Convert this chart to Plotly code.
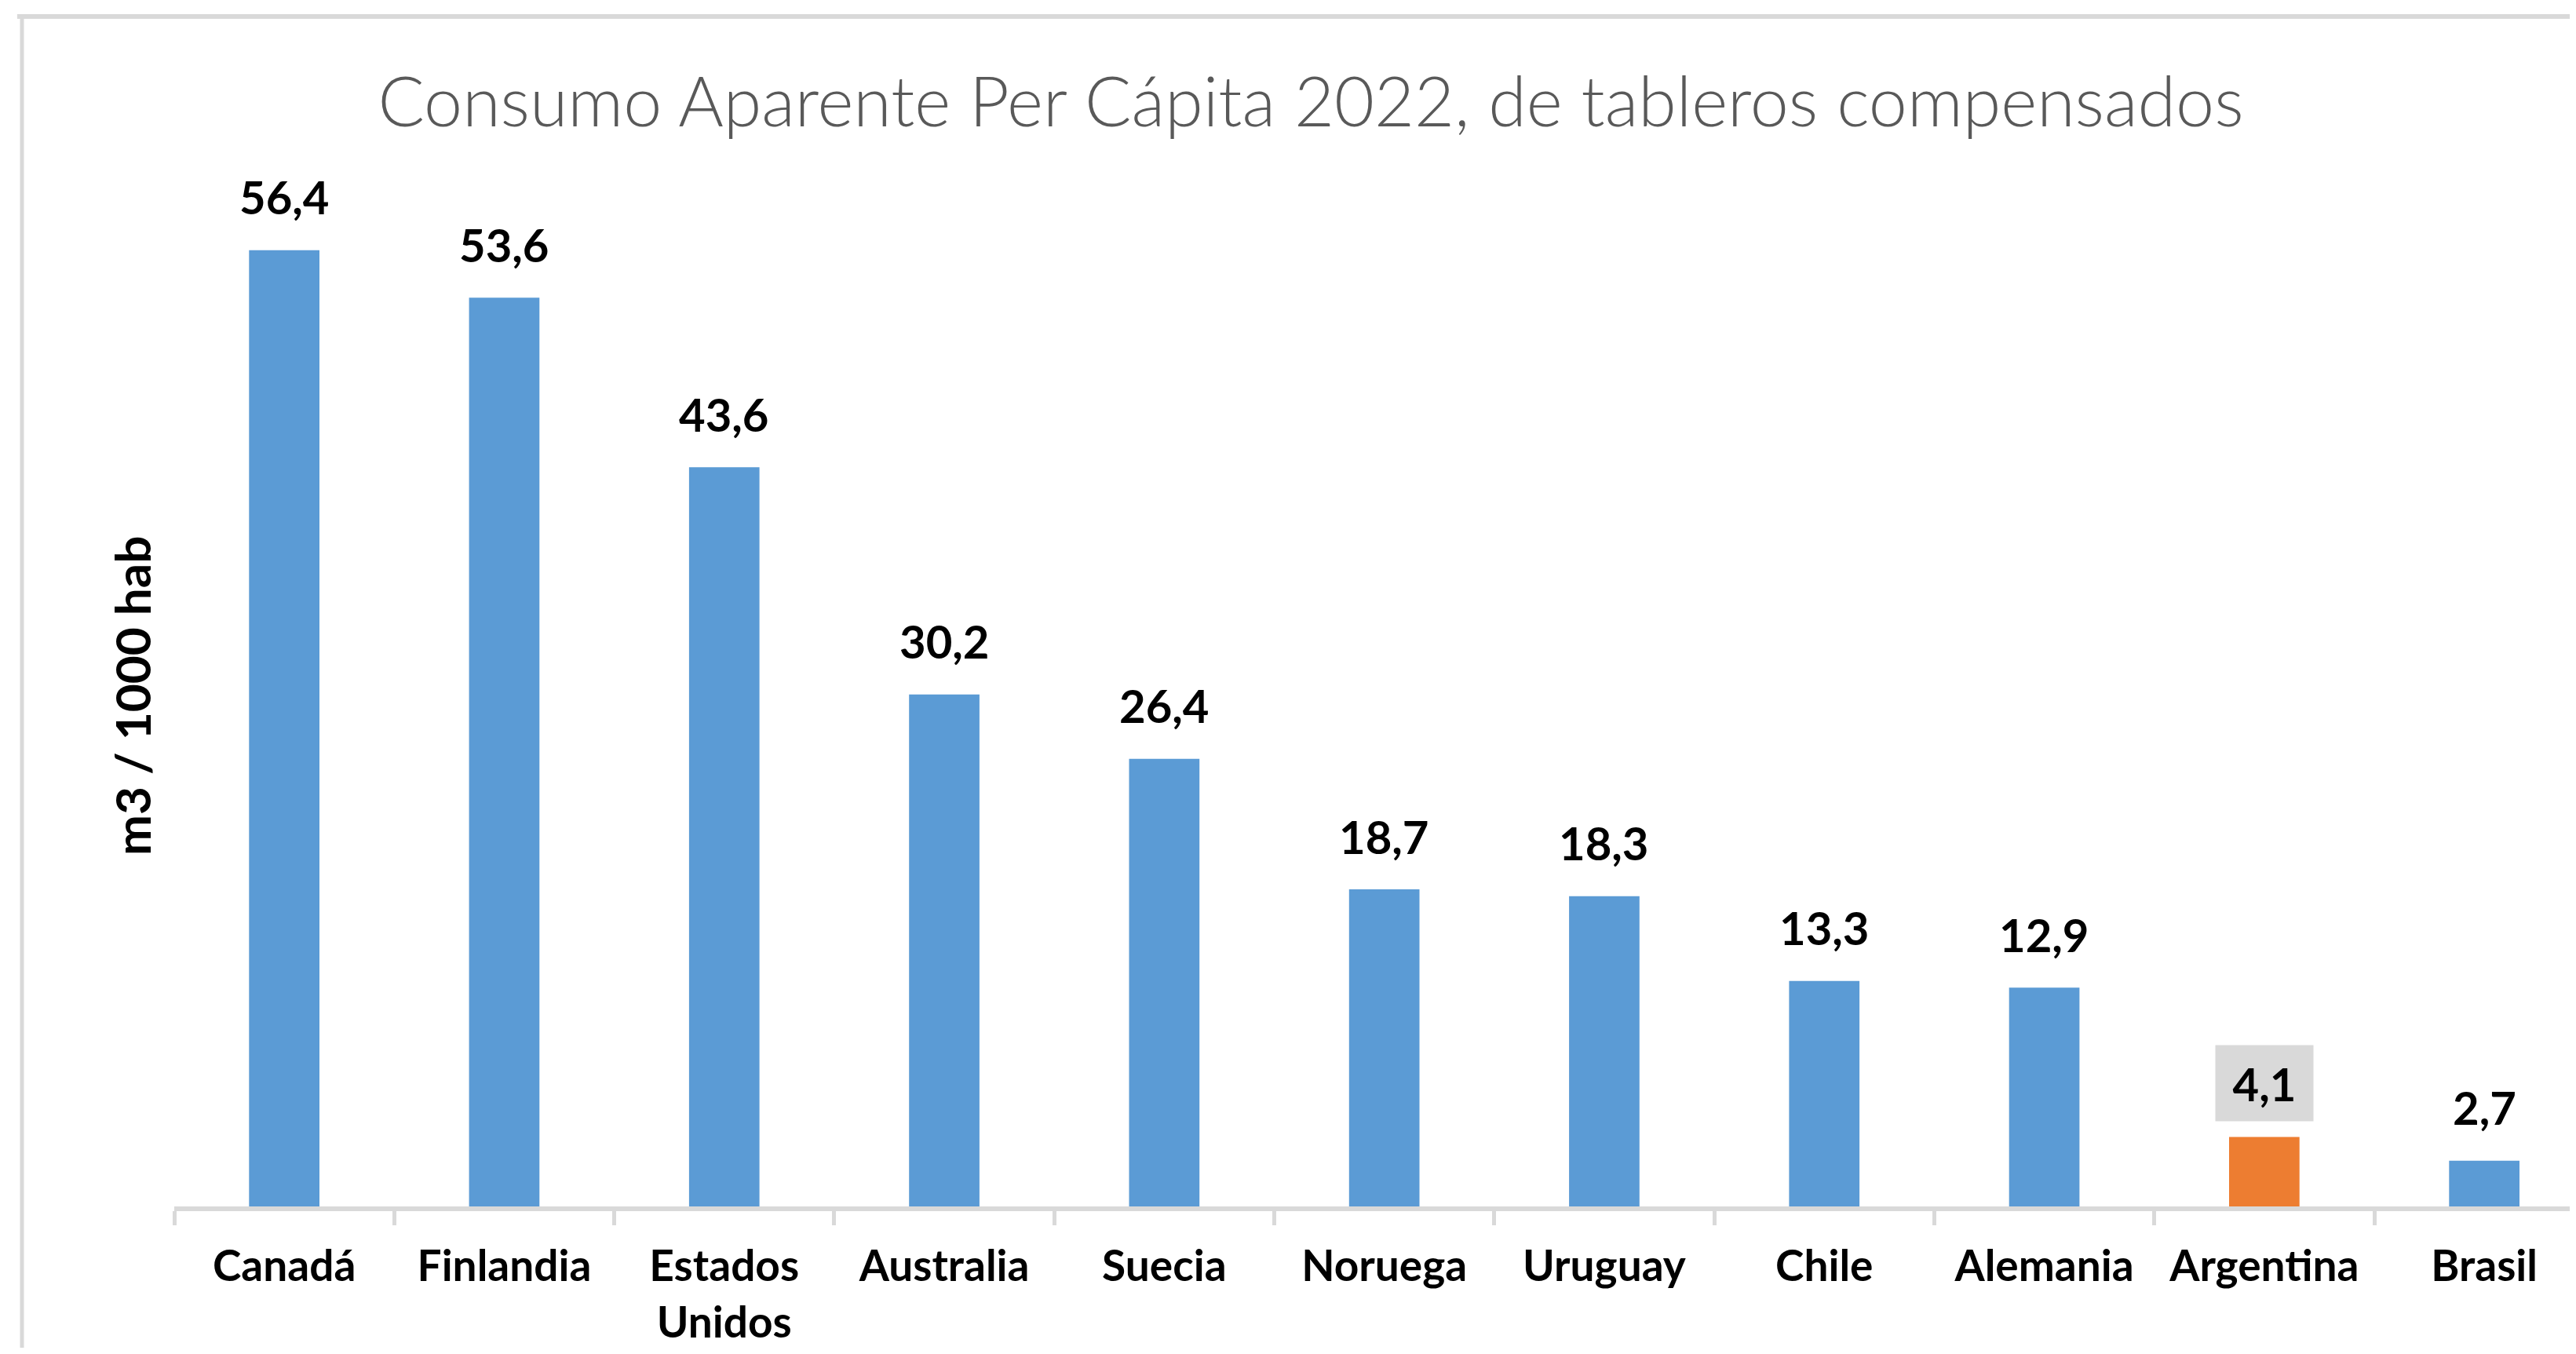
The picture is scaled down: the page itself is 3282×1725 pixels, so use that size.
import plotly.graph_objects as go

categories = ["Canadá", "Finlandia", "Estados<br>Unidos", "Australia", "Suecia", "Noruega",
              "Uruguay", "Chile", "Alemania", "Argentina", "Brasil"]
values = [56.4, 53.6, 43.6, 30.2, 26.4, 18.7, 18.3, 13.3, 12.9, 4.1, 2.7]
highlight = "Argentina"
title_text = "Consumo Aparente Per Cápita 2022, de tableros compensados"
y_title = "m3 / 1000 hab"

BLUE = "#5b9bd5"
ORANGE = "#ed7d31"
GRID = "#d9d9d9"

W, H = 3266, 1709
L, T, B = 214, 200, 180
plot_h = H - T - B
plot_w = W - L
px_per_unit = 21.6
ymax = plot_h / px_per_unit
cat_w = 280.3
xmax = -0.5 + plot_w / cat_w

colors = [ORANGE if c == highlight else BLUE for c in categories]
labels = [f"{v:.1f}".replace(".", ",") for v in values]

fig = go.Figure()
fig.add_trace(go.Bar(x=categories, y=values, marker=dict(color=colors, line=dict(width=0)),
                     width=0.32, hoverinfo="skip"))

for c, v, t in zip(categories, values, labels):
    kw = {}
    if c == highlight:
        kw = dict(bgcolor=GRID, width=112, height=84, borderpad=6)
    fig.add_annotation(x=c, y=v, text=f"<b>{t}</b>", showarrow=False, yanchor="middle",
                       yshift=68, font=dict(family="Lato", size=58, color="#000000"), **kw)

# y axis title
fig.add_annotation(xref="paper", yref="paper", x=(160 - L) / plot_w, y=(H - B - 879) / plot_h,
                   text=f"<b>{y_title}</b>", textangle=-90, showarrow=False,
                   xanchor="center", yanchor="middle",
                   font=dict(family="Lato", size=62, color="#000000"))

# chart outer border (top and left edges visible)
top_y = (H - B - 13) / plot_h
left_x = (20 - L) / plot_w
fig.add_shape(type="line", xref="paper", yref="paper", x0=left_x - 0.002, x1=1.05,
              y0=top_y, y1=top_y, line=dict(color=GRID, width=6), layer="below")
fig.add_shape(type="line", xref="paper", yref="paper", x0=left_x, x1=left_x,
              y0=top_y, y1=-(B + 50) / plot_h, line=dict(color=GRID, width=5), layer="below")

fig.update_layout(
    width=W, height=H,
    margin=dict(l=L, r=0, t=T, b=B),
    paper_bgcolor="white", plot_bgcolor="white",
    showlegend=False,
    title=dict(text=title_text, x=1662 / W, xref="container", xanchor="center",
               y=1 - 122 / H, yref="container", yanchor="middle",
               font=dict(family="Lato", size=88, color="#595959", weight=300)),
    xaxis=dict(range=[-0.5, xmax], showline=True, linecolor=GRID, linewidth=6,
               ticks="outside", tickson="boundaries", ticklen=18, tickwidth=5, tickcolor=GRID,
               tickfont=dict(family="Lato", size=55, color="#000000", weight="bold"),
               ticklabelstandoff=23, showgrid=False, zeroline=False, fixedrange=True,
               automargin=False),
    yaxis=dict(range=[0, ymax], showticklabels=False, showgrid=False, zeroline=False,
               showline=False, ticks="", automargin=False),
)

fig.write_html("out.html")
